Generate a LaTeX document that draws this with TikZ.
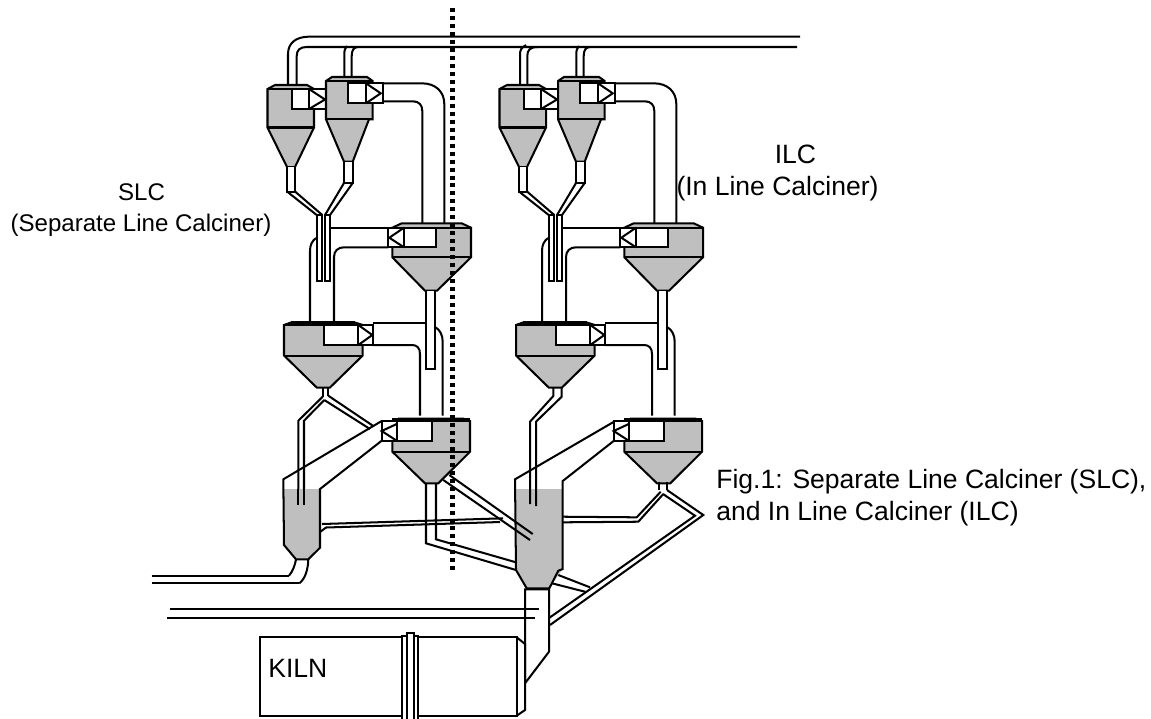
\documentclass[tikz,border=0pt]{standalone}
\usepackage{fontspec}
\setmainfont{Liberation Sans}
\definecolor{silo}{gray}{0.75}

\begin{document}
\begin{tikzpicture}[x=0.02cm, y=-0.02cm, line join=miter,
    pipe/.style={black, line width=1.15pt},
    vessel/.style={pipe, fill=silo},
    tube/.style={pipe, fill=white},
    lbl/.style={font=\fontsize{15.1}{18}\selectfont, anchor=base, inner sep=0pt},
    lblslc/.style={font=\fontsize{13.7}{16}\selectfont, anchor=base, inner sep=0pt},
    lblleft/.style={lbl, anchor=base west}]
    \useasboundingbox (0,0) rectangle (1151,718);

    % Same tower on both sides
    \foreach \dx in {0,232} {
    \begin{scope}[shift={(\dx,0)}]
        % Top cyclone, left
        \draw[vessel] (267.5,89) -- (275,85) -- (307,85) -- (314,89) -- (314,127.5) -- (295,167) -- (287,167) -- (267.5,127.5) -- cycle;
        \draw[pipe] (267.5,89) -- (314,89) (267.5,127.5) -- (314,127.5);
        \draw[tube] (292,89) rectangle (309,109);
        \draw[tube] (309,89) rectangle (326,109);
        \draw[pipe] (309,89) -- (325,99.5) -- (309,109);

        % Top cyclone, right
        \draw[vessel] (326,81) -- (332,77) -- (367,77) -- (372.7,81) -- (372.7,119.3) -- (369,119.3) -- (352.7,161.7) -- (344,161.7) -- (326,119.3) -- cycle;
        \draw[pipe] (326,81) -- (372.7,81) (326,119.3) -- (372.7,119.3);
        \draw[tube] (348,83.3) rectangle (366,103.3);
        \draw[tube] (366,83.3) rectangle (382.7,103.3);
        \draw[pipe] (366,83.3) -- (380.7,93.3) -- (366,103.3);

        % Risers to the main above
        \draw[pipe] (344.3,77) -- (344.3,55) .. controls (344.3,50) and (345,48) .. (347,46);
        \draw[pipe] (351.7,77) -- (351.7,56) .. controls (351.7,50) and (354,47) .. (358,47);

        % Elbow from right cyclone
        \draw[pipe] (382.7,83.3) -- (421.7,83.3) .. controls (436,83.3) and (444.3,92) .. (444.3,104) -- (444.3,223.3);
        \draw[pipe] (382.7,101.3) -- (413,101.3) .. controls (419,101.3) and (422.3,105) .. (422.3,111) -- (422.3,223.3);

        % Stems joining below the top cyclones
        \draw[tube] (287,167) -- (287,191.5) -- (295,191.5) -- (295,167);
        \draw[tube] (344,161.7) -- (344,183) -- (352.7,183) -- (352.7,161.7);
        \draw[pipe] (287,191.5) -- (316.7,215) (295,191.5) -- (322.3,215);
        \draw[pipe] (344,183) -- (325,215) (352.7,183) -- (330,215);
        \draw[tube] (316.7,215) rectangle (322.3,281);
        \draw[tube] (325,215) rectangle (330,281);

        % Duct between middle cyclones
        \draw[pipe] (310,321.7) -- (310,251) .. controls (310,245) and (312,241) .. (316,238);
        \draw[pipe] (331,227.7) -- (388.3,227.7);
        \draw[pipe] (334,321.7) -- (334,257) .. controls (334,251) and (338,247.3) .. (344,247.3) -- (388.3,247.3);

        % Upper cyclone of the second pair
        \draw[vessel] (392.3,227.7) -- (401.7,223.3) -- (461.7,223.3) -- (471,227.7) -- (471,257.3) -- (437,290.7) -- (425,290.7) -- (392.3,257.3) -- cycle;
        \draw[pipe] (392.3,227.7) -- (471,227.7) (392.3,257.3) -- (471,257.3);
        \draw[tube] (404,227.7) rectangle (436,247.3);
        \draw[tube] (388.3,227.7) rectangle (404,247.3);
        \draw[pipe] (404,227.7) -- (389.3,237.7) -- (404,247.3);

        % Lower cyclone of the second pair
        \draw[vessel] (284,325) -- (291,322.5) -- (355,322.5) -- (362.7,325) -- (362.7,355.5) -- (330,387.5) -- (316.7,387.5) -- (284,355.5) -- cycle;
        \draw[pipe] (284,325) -- (362.7,325) (284,355.5) -- (362.7,355.5);
        \draw[pipe, line width=2pt] (291,323) -- (355,323);
        \draw[tube] (324,325) rectangle (358.3,345);
        \draw[tube] (358.3,325) rectangle (372.7,345);
        \draw[pipe] (358.3,325) -- (372.3,335) -- (358.3,345);

        % Elbow down to bottom cyclone
        \draw[pipe] (372.7,323.3) -- (426,323.3);
        \draw[pipe] (372.7,345) -- (412,345) .. controls (417,345) and (420,348) .. (420,354) -- (420,415.7);
        \draw[pipe] (435.5,327.3) .. controls (440,330) and (442.7,335) .. (442.7,342) -- (442.7,415.7);

        % Stem down the middle
        \draw[tube] (426,290.7) -- (426,369) -- (435,369) -- (435,290.7);

        % Bottom cyclone
        \draw[vessel] (392.3,421) -- (399,418.5) -- (463,418.5) -- (470,421) -- (470,451.7) -- (438.3,483.3) -- (425,483.3) -- (392.3,451.7) -- cycle;
        \draw[pipe] (392.3,421) -- (470,421) (392.3,451.7) -- (470,451.7);
        \draw[pipe, line width=2pt] (392.3,419.5) -- (470,419.5);
        \draw[tube] (396.7,421) rectangle (432.3,440.7);
        \draw[tube] (381.7,421) rectangle (396.7,440.7);
        \draw[pipe] (396.7,424) -- (381.7,431) -- (396.7,440.7);
    \end{scope}
    }

    % Main ducts at the top
    \draw[pipe] (800,36.7) -- (308,36.7) .. controls (296,37) and (288,43) .. (288,54) -- (288,85);
    \draw[pipe] (797,47) -- (306.7,47) .. controls (300,47) and (296.7,50) .. (296.7,56) -- (296.7,85);
    \draw[pipe] (520,85) -- (520,55) .. controls (520,50) and (521,48) .. (526,45);
    \draw[pipe] (527.3,85) -- (527.3,56) .. controls (527.3,50) and (530,47) .. (538,47);

    % Branch from SLC middle cyclone
    \draw[tube] (322.7,387.3) -- (322.7,396.7) (328.3,387.3) -- (328.3,395.7);
    \draw[pipe] (322.7,396.7) -- (298.3,420.7) -- (298.3,505);
    \draw[pipe] (324.3,400) -- (304,420.7) -- (304,505);
    \draw[pipe] (328.3,395.7) -- (373.3,426);
    \draw[pipe] (324.3,400) -- (370,429);

    % Left calciner
    \draw[pipe, fill=silo, draw=none] (284,489) -- (320,489) -- (320,547.7) -- (308.3,559.3) -- (296,559.3) -- (284,545) -- cycle;
    \draw[pipe] (381.7,421) -- (283.3,479.3) -- (284,545) -- (296,559.3) -- (308.3,559.3) -- (320,547.7) -- (320,489) -- (381.7,440.7);
    \draw[pipe] (298.3,489) -- (298.3,505) (304,489) -- (304,505);
    \draw[pipe] (296,559.3) .. controls (295,565) and (293,571) .. (289,575.7);
    \draw[pipe] (308.3,559.3) .. controls (308,570) and (305,579) .. (299.3,583.3);
    \draw[pipe] (151.7,575.7) -- (289,575.7);
    \draw[pipe] (151.7,583.3) -- (299.3,583.3);

    % Right calciner
    \draw[pipe, fill=silo, draw=none] (516,489) -- (562.7,489) -- (562.7,569) -- (549.3,588.3) -- (526.7,588.3) -- (516,570) -- cycle;
    \draw[pipe] (614,421.7) -- (515,479.3) -- (516,570) -- (526.7,588.3) -- (549.3,588.3) -- (558.3,570.7) -- (562.7,569) -- (562.7,481) -- (614,440.7);

    % Branch from ILC middle cyclone
    \draw[pipe] (553.3,388) -- (553.3,396) -- (530,421.7) -- (530,504);
    \draw[pipe] (561.7,388) -- (561.7,396.7) -- (536,421.7) -- (536,506);

    % Cross ducts into the right calciner
    \draw[pipe] (426,483.3) -- (426,543.3) -- (516,570);
    \draw[pipe] (436,483.3) -- (436,539.3) -- (516,562.3);
    \draw[pipe] (443.3,480) -- (530,540);
    \draw[pipe] (449.3,475) -- (532.7,534);

    % Between the two calciners
    \draw[pipe] (322,524) -- (503,518.3);
    \draw[pipe] (320,532) -- (326,527.5) -- (500,522);
    \draw[pipe] (562.7,516.7) -- (636.7,517.3) -- (660.7,491.7);
    \draw[pipe] (562.7,522.3) -- (638.3,521.7) -- (663.3,494);

    % ILC bottom cyclone branch back to the hood
    \draw[pipe] (659.3,481.7) -- (659.3,490) (667.3,481.7) -- (667.3,490);
    \draw[pipe] (667,490) -- (703.3,515) -- (550,625);
    \draw[pipe] (663,494) -- (695,515.7) -- (549,618);
    \draw[pipe] (558.3,575) -- (590,587.3);
    \draw[pipe] (552,583.3) -- (585,591.7);

    % Hood
    \draw[pipe] (525,683.3) -- (525,589.3) -- (549,589.3) -- (549,651.7) -- (525,683.3);

    % Lines above the kiln
    \draw[pipe] (170,609.3) -- (539,609.3);
    \draw[pipe] (167.3,617.7) -- (535,617.7);

    % Kiln
    \draw[tube] (260,637.3) rectangle (516.7,715.7);
    \draw[pipe] (516.7,637.3) -- (525,644) -- (525,710) -- (516.7,715.7);
    \fill[white] (402.3,636) rectangle (418.3,719);
    \draw[pipe] (402.3,719) -- (402.3,636) -- (406.7,636) (414,636) -- (418.3,636) -- (418.3,719);
    \draw[pipe] (406.7,719) -- (406.7,633.3) -- (414,633.3) -- (414,719);

    % Centre line
    \draw[line width=2.6pt, dash pattern=on 2.27pt off 2.27pt] (452.3,8) -- (452.3,571);

    % Labels
    \node[lblslc] (slc) at (141.5,200) {SLC};
    \node[lblslc] (slcname) at (141,231.7) {(Separate Line Calciner)};
    \node[lbl] (ilc) at (795.5,163) {ILC};
    \node[lbl] (ilcname) at (777.5,195) {(In Line Calciner)};
    \node[lblleft] (figa) at (716,488) {Fig.1: Separate Line Calciner (SLC),};
    \node[lblleft] (figb) at (716,520) {and In Line Calciner (ILC)};
    \node[lblleft] (kiln) at (268,677.3) {KILN};
\end{tikzpicture}
\end{document}
